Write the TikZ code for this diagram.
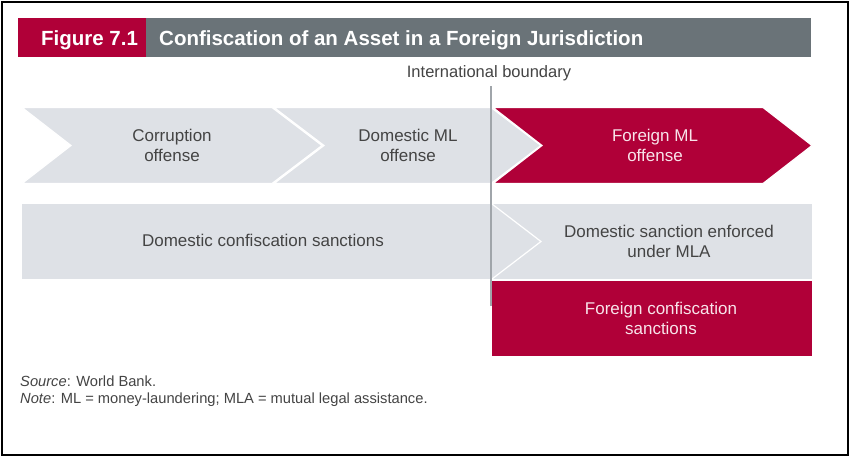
\documentclass[tikz,border=0pt]{standalone}
\usepackage{fontspec}
\setmainfont{Liberation Sans}
\definecolor{wbred}{RGB}{176,0,56}
\definecolor{wbgrey}{RGB}{106,115,120}
\definecolor{lightbox}{RGB}{222,225,230}
\definecolor{txtgrey}{RGB}{68,68,68}
\definecolor{lineg}{RGB}{160,165,170}
\definecolor{pinkwhite}{RGB}{248,228,234}
\tikzset{
  greyshape/.style={fill=lightbox, draw=white, line width=1.2pt, line join=miter},
  redshape/.style={fill=wbred, draw=white, line width=1.2pt, line join=miter},
  boxtext/.style={align=center, text=txtgrey, font=\fontsize{17}{20}\selectfont, inner sep=0pt},
  redtext/.style={align=center, text=pinkwhite, font=\fontsize{17}{20}\selectfont, inner sep=0pt},
  titletext/.style={text=white, font=\fontsize{20.5}{24}\selectfont\bfseries, inner sep=0pt},
  foottext/.style={text=txtgrey, font=\fontsize{14.7}{17}\selectfont, inner sep=0pt, anchor=base west}
}
\begin{document}
\begin{tikzpicture}[x=1pt,y=-1pt]
\useasboundingbox (0,0) rectangle (852,461);
\fill[white] (0,0) rectangle (852,461);
% outer frame
\draw[black, line width=2.5pt] (2,2) rectangle (848,455);
% title bar
\fill[wbred] (18,18) rectangle (146,57);
\fill[wbgrey] (146,18) rectangle (811,57);
\node[titletext, anchor=base] (fig) at (89.5,45) {Figure 7.1};
\node[titletext, anchor=base west] (title) at (159,45) {Confiscation of an Asset in a Foreign Jurisdiction};
% boundary label
\node[text=txtgrey, font=\fontsize{16.5}{20}\selectfont, inner sep=0pt, anchor=base] (ib) at (489,77) {International boundary};
% row 1 chevrons
\path[greyshape] (22,107.5) -- (272,107.5) -- (322,145.5) -- (272,183.5) -- (22,183.5) -- (71,145.5) -- cycle;
\path[greyshape] (274,107.5) -- (491,107.5) -- (541,145.5) -- (491,183.5) -- (274,183.5) -- (324,145.5) -- cycle;
\path[redshape] (493,107.5) -- (763,107.5) -- (812,145.5) -- (763,183.5) -- (493,183.5) -- (542,145.5) -- cycle;
% row 2
\fill[lightbox] (22,204) rectangle (491,279);
\fill[lightbox] (492,204) rectangle (812,279);
\draw[white, line width=1.2pt] (492,204) -- (541,241.5) -- (492,279);
% row 3
\fill[wbred] (492,281) rectangle (812,356);
% boundary line
\coordinate (btop) at (491,86);
\coordinate (bbot) at (491,306);
\draw[lineg, line width=1.5pt] (btop) -- (bbot);
% texts
\node[boxtext] (corr) at (172,145.5) {Corruption\\offense};
\node[boxtext] (dml) at (408,145.5) {Domestic ML\\offense};
\node[redtext] (fml) at (655,145.5) {Foreign ML\\offense};
\node[boxtext] (dcs) at (263,240) {Domestic confiscation sanctions};
\node[boxtext] (dse) at (669,241.5) {Domestic sanction enforced\\under MLA};
\node[redtext] (fcs) at (661,318) {Foreign confiscation\\sanctions};
% footer
\node[foottext] (src) at (20,386) {\textit{Source}: World Bank.};
\node[foottext] (note) at (20,403) {\textit{Note}: ML = money-laundering; MLA = mutual legal assistance.};
\end{tikzpicture}
\end{document}
